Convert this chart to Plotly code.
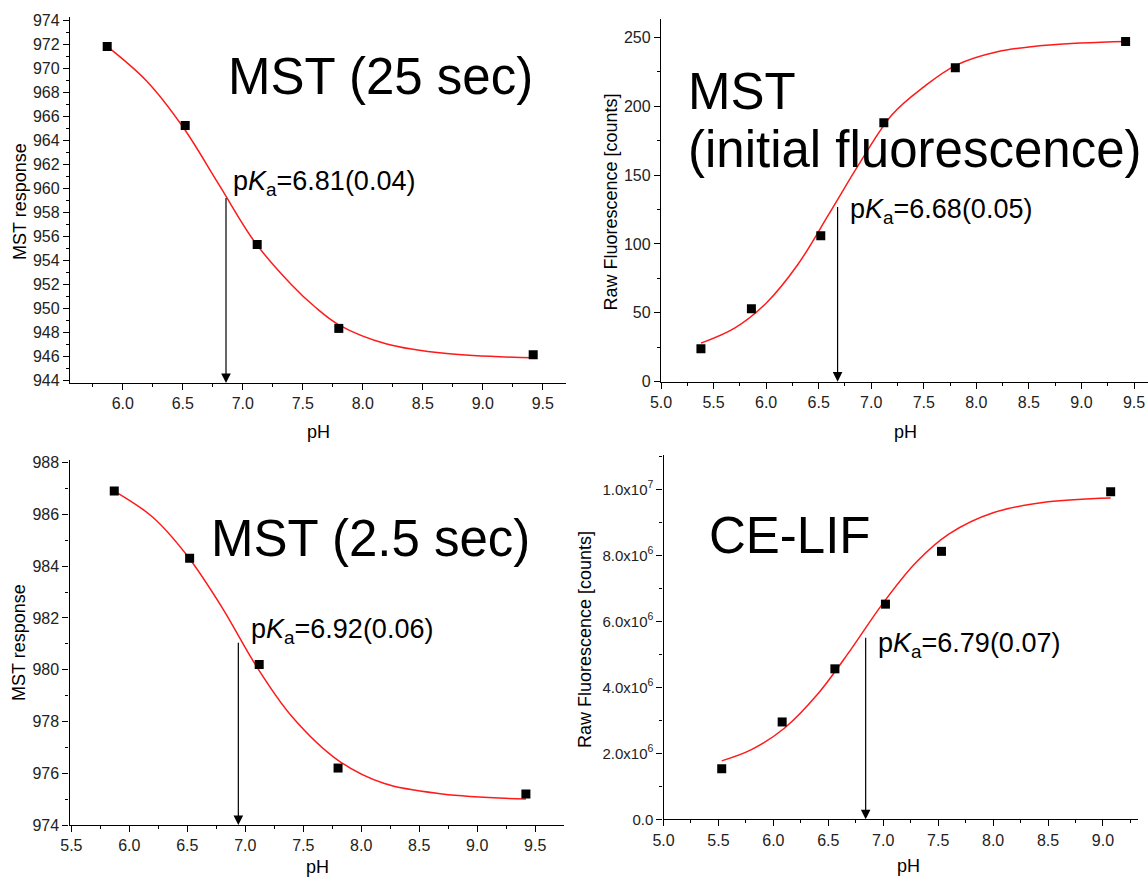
import plotly.graph_objects as go

W, H = 1148, 881

# ---------------- data ----------------
# Panel A: MST (25 sec)
a_ph = [5.87, 6.52, 7.12, 7.80, 9.42]
a_val = [971.8, 965.2, 955.3, 948.3, 946.1]
a_fit_ph = [5.87, 6.2, 6.5, 6.8, 7.1, 7.4, 7.6, 7.8, 8.2, 8.7, 9.42]
a_fit_val = [971.8, 968.9, 965.1, 960.3, 955.5, 952.0, 950.1, 948.6, 947.0, 946.2, 945.85]
a_arrow = [6.86, 959.3, 943.75]      # pH, top, bottom
a_title = "MST (25 sec)"
a_label = "p<i>K</i><sub>a</sub>=6.81(0.04)"

# Panel B: MST (initial fluorescence)
b_ph = [5.38, 5.86, 6.52, 7.12, 7.80, 9.42]
b_val = [24, 53, 106, 188, 228, 247]
b_fit_ph = [5.38, 5.7, 6.0, 6.3, 6.6, 6.9, 7.2, 7.5, 7.8, 8.2, 8.7, 9.42]
b_fit_val = [28.0, 38.9, 57.0, 84.9, 122.0, 160.0, 194.0, 214.0, 229.5, 239.5, 244.5, 247.0]
b_arrow = [6.68, 128, 0]
b_title1 = "MST"
b_title2 = "(initial fluorescence)"
b_label = "p<i>K</i><sub>a</sub>=6.68(0.05)"

# Panel C: MST (2.5 sec)
c_ph = [5.87, 6.52, 7.12, 7.80, 9.42]
c_val = [986.9, 984.3, 980.2, 976.2, 975.2]
c_fit_ph = [5.87, 6.2, 6.5, 6.8, 7.1, 7.4, 7.8, 8.2, 8.7, 9.42]
c_fit_val = [986.9, 985.9, 984.4, 982.4, 980.1, 978.2, 976.5, 975.6, 975.2, 975.0]
c_arrow = [6.94, 981.1, 974.0]
c_title = "MST (2.5 sec)"
c_label = "p<i>K</i><sub>a</sub>=6.92(0.06)"

# Panel D: CE-LIF
d_ph = [5.53, 6.08, 6.56, 7.02, 7.53, 9.07]
d_val = [1.53e6, 2.95e6, 4.56e6, 6.52e6, 8.12e6, 9.93e6]
d_fit_ph = [5.53, 5.8, 6.1, 6.4, 6.7, 7.0, 7.3, 7.6, 8.0, 8.5, 9.07]
d_fit_val = [1.77e6, 2.11e6, 2.76e6, 3.78e6, 5.12e6, 6.56e6, 7.79e6, 8.65e6, 9.29e6, 9.62e6, 9.74e6]
d_arrow = [6.84, 5.55e6, 0]
d_title = "CE-LIF"
d_label = "p<i>K</i><sub>a</sub>=6.79(0.07)"
d_yticks = [0, 2e6, 4e6, 6e6, 8e6, 1e7]
d_yticktext = ["0.0", "2.0x10<sup>6</sup>", "4.0x10<sup>6</sup>", "6.0x10<sup>6</sup>",
               "8.0x10<sup>6</sup>", "1.0x10<sup>7</sup>"]

xlab = "pH"
ylab_mst = "MST response"
ylab_fl = "Raw Fluorescence [counts]"

# ---------------- helpers ----------------
FONT = "Arial, Liberation Sans, Helvetica, sans-serif"


def px(x):
    return x / W


def py(y):
    return 1 - y / H


fig = go.Figure()

panels = [
    (a_ph, a_val, a_fit_ph, a_fit_val, "x", "y"),
    (b_ph, b_val, b_fit_ph, b_fit_val, "x2", "y2"),
    (c_ph, c_val, c_fit_ph, c_fit_val, "x3", "y3"),
    (d_ph, d_val, d_fit_ph, d_fit_val, "x4", "y4"),
]
for ph, val, fph, fval, xa, ya in panels:
    fig.add_trace(go.Scatter(x=fph, y=fval, mode="lines", line=dict(color="#ff1a1a", width=1.5, shape="spline"),
                             xaxis=xa, yaxis=ya, showlegend=False, hoverinfo="skip"))
    fig.add_trace(go.Scatter(x=ph, y=val, mode="markers",
                             marker=dict(symbol="square", size=9, color="black"),
                             xaxis=xa, yaxis=ya, showlegend=False))


def axis(domain, rng, dtick, minor_dtick, tick0, fmt=None, anchor=None, size=16):
    d = dict(domain=domain, range=rng, showline=True, linecolor="black", linewidth=1.3,
             ticks="outside", ticklen=6, tickwidth=1.2, tickcolor="black",
             showgrid=False, zeroline=False, mirror=False, anchor=anchor, automargin=False,
             tickfont=dict(family=FONT, size=size, color="#222"),
             minor=dict(ticks="outside", ticklen=3, tickwidth=1, tickcolor="black",
                        tick0=tick0, dtick=minor_dtick, showgrid=False))
    if dtick is not None:
        d.update(tick0=tick0, dtick=dtick, tickmode="linear")
    if fmt:
        d["tickformat"] = fmt
    return d


layout = dict(
    width=W, height=H, autosize=False,
    margin=dict(l=0, r=0, t=0, b=0, pad=0),
    paper_bgcolor="white", plot_bgcolor="white",
    font=dict(family=FONT, color="black"),
    xaxis=axis([px(70), px(565.6)], [5.56, 9.69], 0.5, 0.25, 5.0, ".1f", "y"),
    yaxis=axis([py(383), py(17)], [943.75, 974.25], 2, 1, 944, None, "x"),
    xaxis2=axis([px(661), px(1148)], [5.0, 9.633], 0.5, 0.25, 5.0, ".1f", "y2"),
    yaxis2=axis([py(381.7), py(19)], [0, 263.3], 50, 25, 0, None, "x2"),
    xaxis3=axis([px(69.5), px(563.7)], [5.484, 9.746], 0.5, 0.25, 5.0, ".1f", "y3"),
    yaxis3=axis([py(825), py(460)], [974, 988.1], 2, 1, 974, None, "x3"),
    xaxis4=axis([px(663.5), px(1137.7)], [5.0, 9.316], 0.5, 0.25, 5.0, ".1f", "y4"),
    yaxis4=axis([py(819.3), py(455)], [0, 1.104e7], None, 1e6, 0, None, "x4", 15),
)
layout["yaxis4"].update(tickmode="array", tickvals=d_yticks, ticktext=d_yticktext)
fig.update_layout(**layout)

ann = []


def text(x, y, t, size, anchor="left", angle=0):
    ann.append(dict(x=px(x), y=py(y), xref="paper", yref="paper", text=t, showarrow=False,
                    xanchor=anchor, yanchor="middle", textangle=angle,
                    font=dict(family=FONT, size=size, color="black")))


def arrow(xa, ya, spec):
    ph, top, bot = spec
    ann.append(dict(x=ph, y=bot, ax=ph, ay=top, xref=xa, yref=ya, axref=xa, ayref=ya,
                    text="", showarrow=True, arrowhead=2, arrowsize=1.6, arrowwidth=1.2,
                    arrowcolor="black", standoff=0, startstandoff=0))


# big panel titles
text(226, 76.5, a_title, 51)
text(685.6, 91.5, b_title1, 51)
text(685.6, 149, b_title2, 51)
text(208.6, 538, c_title, 51)
text(707, 535, d_title, 51)

# pKa labels
text(230.6, 183.5, a_label, 27)
text(847.8, 211, b_label, 27)
text(249, 631, c_label, 27)
text(876, 645, d_label, 27)

# arrows
arrow("x", "y", a_arrow)
arrow("x2", "y2", b_arrow)
arrow("x3", "y3", c_arrow)
arrow("x4", "y4", d_arrow)

# axis titles
text(318, 432, xlab, 18, "center")
text(905, 432, xlab, 18, "center")
text(317, 867, xlab, 18, "center")
text(908, 866, xlab, 18, "center")
text(20, 202, ylab_mst, 18, "center", -90)
text(610.6, 202, ylab_fl, 18, "center", -90)
text(19, 643, ylab_mst, 18, "center", -90)
text(585, 640, ylab_fl, 18, "center", -90)

fig.update_layout(annotations=ann)
fig.write_html("out.html", config={"displayModeBar": False},
               post_script="document.body.style.margin='0';document.body.style.overflow='hidden';")
